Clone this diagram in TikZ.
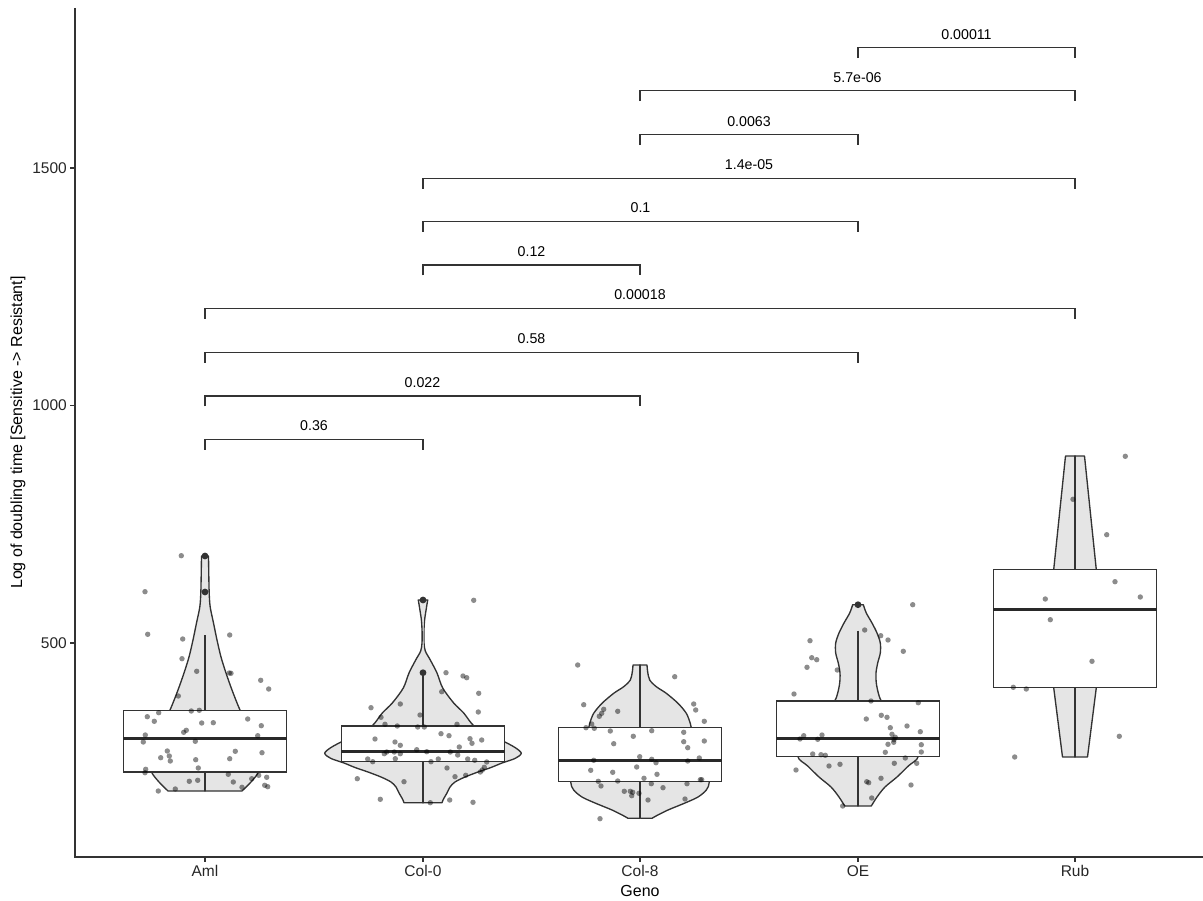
\documentclass[tikz,border=0pt]{standalone}
\usepackage{fontspec}
\setmainfont{Liberation Sans}
\usetikzlibrary{positioning}

\definecolor{violinfill}{HTML}{E5E5E5}
\definecolor{ink}{HTML}{333333}

\begin{document}
\begin{tikzpicture}[x=1pt, y=-1pt,
    violin/.style={draw=ink, fill=violinfill, line width=1.35pt, line join=round},
    whisker/.style={draw=ink, line width=1.35pt},
    boxst/.style={draw=ink, fill=white, line width=1.35pt},
    median/.style={draw=ink!80!black, line width=3pt},
    jit/.style={fill=black, fill opacity=0.45},
    outl/.style={fill=black!80},
    bracket/.style={draw=ink, line width=1.1pt},
    plab/.style={anchor=base, inner sep=0pt, font=\fontsize{14.2}{16}\selectfont},
    ticklab/.style={inner sep=0pt, font=\fontsize{15.5}{18}\selectfont, text=black!85},
    axtitle/.style={inner sep=0pt, font=\fontsize{16}{19}\selectfont}]

    \useasboundingbox (0,0) rectangle (1203,901);

    % group positions on the x axis
    \coordinate (aml) at (205,857);
    \coordinate (col0) at (423,857);
    \coordinate (col8) at (640,857);
    \coordinate (oe) at (858,857);
    \coordinate (rub) at (1075,857);

    % violins (two mirrored halves each)
    \foreach \s in {1,-1} {
        \draw[violin, shift={(205,0)}, xscale=\s] (-0.6,556) -- plot[smooth] coordinates {(3.5,556) (3.8,575) (4.2,593) (5.2,607) (8.5,623) (12,640) (16,657) (21,673) (27,690) (35,710) (45,730) (52,750) (55,764) (53,773) (46,782) (37,791)} -- (-0.6,791);
        \draw[violin, shift={(423,0)}, xscale=\s] (-0.6,600) -- plot[smooth] coordinates {(4.7,600) (3.4,608) (1.6,620) (0.9,632) (1.0,643) (2.3,651) (7.3,660) (14,673) (19.7,688) (30.7,703) (40.7,713) (51,726) (66,734) (80,741) (92,747.5) (98.3,753.3) (92,758.5) (79,763) (68,767.5) (55,772) (42,777) (32,782) (27,787) (24,793) (20.5,799) (19,802.7)} -- (-0.6,802.7);
        \draw[violin, shift={(640,0)}, xscale=\s] (-0.6,665) -- plot[smooth] coordinates {(7,665) (7.7,672) (9.7,680) (16.3,686.7) (26.3,693.3) (38,703.3) (46.3,713.3) (50.3,723.3) (52,730) (60,745) (67,765) (69.3,782) (66.3,790) (58,797) (45,803) (28,810) (16,816) (12,818.3)} -- (-0.6,818.3);
        \draw[violin, shift={(858,0)}, xscale=\s] (-0.6,604.7) -- plot[smooth] coordinates {(5.3,604.7) (8.3,613) (14,623) (19,633) (22.3,643) (22.3,653) (19.7,663) (18,673) (18.3,683) (20.3,693) (23.3,701) (35,720) (50,742) (60,756.7) (50.3,766) (39,777) (27,787) (19,797) (13.3,806)} -- (-0.6,806);
        \draw[violin, shift={(1075,0)}, xscale=\s] (-0.6,456) -- (9.5,456) -- (21.3,569.7) -- (27,609) -- (21.3,687.7) -- (12.5,757) -- (-0.6,757);
    }

    % whiskers, boxes and medians
    \foreach \x/\wt/\bt/\bb/\wb/\m in {205/635/710.3/772/791/738.7, 423/672.7/726/761.7/802.7/751.7, 640/665/727.7/781.7/818.3/760, 858/630.7/701/756.7/806/738.3, 1075/456/569.7/687.7/757/609.3} {
        \draw[whisker] (\x,\wt) -- (\x,\bt);
        \draw[whisker] (\x,\bb) -- (\x,\wb);
        \draw[boxst] (\x-81.7,\bt) rectangle (\x+81.7,\bb);
        \draw[median] (\x-81.7,\m) -- (\x+81.7,\m);
    }

    % outliers
    \foreach \x/\y in {205/556, 205/592, 423/600, 423/672.7, 858/604.7}
        \fill[outl] (\x,\y) circle (3.4);

    % jittered observations
    \foreach \x/\y in {181.3/555.7, 145/591.7, 147.7/634.3, 182.7/639, 229.7/635, 182/658.7, 196.7/671.3, 229.3/673, 231/673.3, 260.7/680.3, 268.7/689, 178.3/696, 158.7/712.7, 191.3/711, 199.3/710.3, 147.3/716.7, 154.3/721.3, 201.7/723, 213.3/722.7, 247.7/719, 261.3/725.7, 183.7/732.3, 186.3/730.3, 145.3/735, 143.3/742, 195.3/741.3, 257.7/735.7, 167.3/751, 160.7/757.7, 169.3/756, 170.3/761, 195.7/759.7, 229.7/758.7, 235.3/751.3, 262/752.7, 198.3/768, 145.7/769.3, 145/772.7, 189.3/781.3, 197.7/780.3, 228.3/774.3, 233.3/782, 251.7/778.7, 258.7/775.3, 266.7/777.3, 264.7/785.3, 267.7/786.7, 242/787.3, 175.3/789, 158.3/791}
        \fill[jit] (\x,\y) circle (2.7);
    \foreach \x/\y in {473.7/600.3, 446/672.7, 463/676, 466.7/677.7, 478.7/693.3, 441.7/691.7, 400.3/704, 371/707.7, 478.3/712, 420/715, 381/717.3, 385/724.3, 397.3/726, 417.7/727, 424.3/727, 457/724.3, 441/733.7, 449/735.7, 375/739, 395/742, 400.3/745.3, 470/738.7, 481.7/740, 472/743.3, 459.3/747, 416.7/749.7, 426.7/751.7, 386.7/752, 384.3/753.7, 394.3/752, 400.3/753.7, 450.3/752, 457.7/755, 367.7/759, 372.7/761.7, 395.3/758.7, 431/761.7, 438.3/759, 467.7/759, 474.7/760.3, 486.7/762, 447/768, 484.3/767.3, 482.3/770, 480.3/772, 357.3/778.7, 404/781.7, 455/776.7, 465.7/775.3, 380.3/799.3, 430.3/802.7, 449.7/800, 473/802.3}
        \fill[jit] (\x,\y) circle (2.7);
    \foreach \x/\y in {577.7/665, 674.7/676.7, 583.7/704.7, 603.7/709.3, 601.7/713.3, 599.3/716.3, 617.7/711.3, 693.7/704, 695.7/710, 704.3/721.3, 591.7/724, 586/727.7, 594.3/728.3, 610.3/731, 651.7/730.7, 683.7/732.3, 633.3/736.3, 613.7/743.7, 683.7/741.7, 704.3/741, 687.7/747.7, 639.7/756.7, 593.7/760.3, 651.7/759.3, 656/762.7, 687.7/761, 699.3/758, 590.7/770.3, 636.7/767, 612.7/772.3, 657/774.3, 644/778.3, 598.3/781.3, 617.7/781, 700.3/779.7, 701.7/779.7, 601/786, 651.3/783.7, 663/787.7, 687/783.7, 624.3/791.3, 630.3/791.3, 632.7/792.3, 631.7/795.7, 639/793.3, 648/800, 685/799, 600/818.7}
        \fill[jit] (\x,\y) circle (2.7);
    \foreach \x/\y in {912.7/604.7, 864.7/630, 880.7/635.7, 888/640, 810/640.7, 903.3/651.3, 811.7/657.7, 816.7/659.7, 807/667.3, 837.3/670, 794/694, 871/701, 918.3/702.7, 866.3/719, 881.3/715.3, 887/717.3, 890.3/727.7, 907/726, 920.3/731.7, 892/734.3, 895.3/737.3, 894/739.7, 893.7/742.3, 803.7/735.7, 800/739, 817.7/739.3, 822/735, 888/744.3, 921.3/744.7, 885.3/752.3, 921.3/752, 812.7/754, 821/754.7, 825.3/755.3, 905.3/758, 894.3/763.3, 916.7/763.3, 829/766, 840/764.3, 796/770, 881/778.3, 866.7/781.7, 868.7/782.7, 911/785, 871.7/798, 842.7/806}
        \fill[jit] (\x,\y) circle (2.7);
    \foreach \x/\y in {1125.3/456.3, 1073/499.3, 1106.7/534.7, 1115/581.7, 1140.3/597, 1045.3/599, 1050.3/619.7, 1092/661.3, 1013.3/687.3, 1026.3/689, 1119.3/736.3, 1014.7/757}
        \fill[jit] (\x,\y) circle (2.7);

    % significance brackets
    \foreach \a/\b/\y/\p [count=\i] in {205/423/439.3/0.36, 205/640/396/0.022, 205/858/352.3/0.58, 205/1075/308.5/0.00018, 423/640/265/0.12, 423/858/221.5/0.1, 423/1075/178.3/1.4e-05, 640/858/134.7/0.0063, 640/1075/90.7/5.7e-06, 858/1075/47.7/0.00011} {
        \draw[bracket] (\a,\y+10.5) -- (\a,\y) -- (\b,\y) -- (\b,\y+10.5);
        \node (pval\i) [plab] at ({(\a+\b)/2},\y-8.6) {\p};
    }

    % axes
    \draw[ink, line width=1.6pt] (75,8) -- (75,857) -- (1203,857);
    \foreach \v/\y in {500/643, 1000/405.5, 1500/168} {
        \draw[ink, line width=1.3pt] (70,\y) -- (75,\y);
        \node (ytick\v) [ticklab, anchor=east] at (67,\y) {\v};
    }
    \foreach \g/\t in {aml/Aml, col0/Col-0, col8/Col-8, oe/OE, rub/Rub} {
        \draw[ink, line width=1.3pt] (\g) -- ++(0,5);
        \node (\g-lab) [ticklab, below=8pt of \g] {\t};
    }
    \node (geno) [axtitle, below=8pt of col8-lab] {Geno};
    \node (ylab) [axtitle, rotate=90] at (18,432.5) {Log of doubling time [Sensitive -> Resistant]};
\end{tikzpicture}
\end{document}
